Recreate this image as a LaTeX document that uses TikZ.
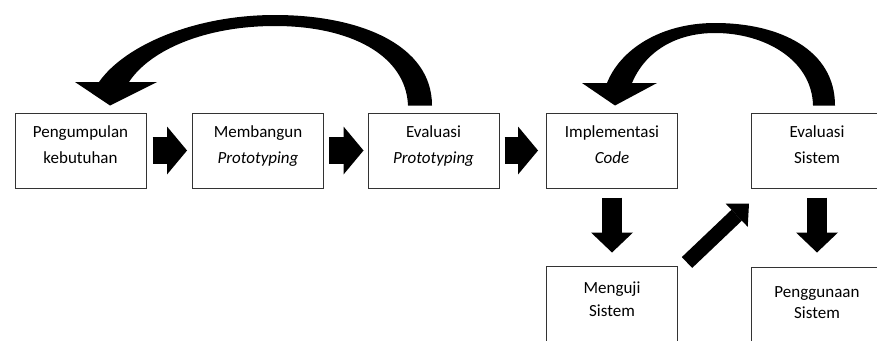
\documentclass[tikz,border=0pt]{standalone}
\usepackage{fontspec}
\setmainfont{Carlito}
\usetikzlibrary{arrows.meta,calc}

\begin{document}
\begin{tikzpicture}[x=1pt,y=-1pt,
    box/.style={draw=black!80,line width=1pt,minimum width=131pt,
                inner sep=0pt,text height=50pt,text depth=25pt,align=center,
                font=\fontsize{17}{26}\selectfont},
    rarrow/.style={line width=27pt,-{Triangle[length=20pt,width=48pt,line width=0pt]}},
    darrow/.style={line width=20pt,-{Triangle[length=20pt,width=42pt,line width=0pt]}},
    sarrow/.style={line width=15pt,-{Triangle[length=17pt,width=32pt,line width=0pt]}}]

    \useasboundingbox (0,0) rectangle (877,340);

    \node[box] (collect) at (80.5,150.5) {Pengumpulan\\kebutuhan};
    \node[box] (build)   at (258,150.5)  {Membangun\\\textit{Prototyping}};
    \node[box] (eproto)  at (433.5,150.5) {Evaluasi\\\textit{Prototyping}};
    \node[box] (impl)    at (612,150.5)  {Implementasi\\\textit{Code}};
    \node[box] (esys)    at (817,150.5)  {Evaluasi\\Sistem};
    \node[box,font=\fontsize{17}{23}\selectfont]
      (test) at (612,303.5) {Menguji\\Sistem};
    \node[box,text height=51pt,text depth=24pt,font=\fontsize{17}{21}\selectfont]
      (use)  at (817,304.5) {Penggunaan\\Sistem};

    \draw[rarrow,shorten <=6pt,shorten >=5pt] (collect) -- (build);
    \draw[rarrow,shorten <=5pt,shorten >=4pt] (build) -- (eproto);
    \draw[rarrow,shorten <=5pt,shorten >=8pt] (eproto) -- (impl);
    \draw[darrow,shorten <=9pt,shorten >=13pt] (impl) -- (test);
    \draw[darrow,shorten <=9pt,shorten >=14pt] (esys) -- (use);
    \draw[sarrow] ([shift={(9,-3)}]test.north east) -- ([shift={(-2,15)}]esys.south west);

    % curved arrows back
    \fill ([shift={(-1.5,-7)}]eproto.north) .. controls (432,45) and (360,15) .. (275,15)
      .. controls (195,15) and (125,45) .. (99,82) -- (75,82)
      -- ([shift={(29.5,-7)}]collect.north) -- (157,82) -- (129,82)
      .. controls (150,50) and (205,26) .. (275,26)
      .. controls (350,26) and (406,55) .. ([shift={(-25.5,-7)}]eproto.north) -- cycle;
    \fill ([shift={(18,-7)}]esys.north) .. controls (835,50) and (780,23) .. (715,23)
      .. controls (660,23) and (620,50) .. (607,83) -- (582,83)
      -- ([shift={(3,-7)}]impl.north) -- (657,83) -- (632,83)
      .. controls (645,52) and (675,33) .. (715,33)
      .. controls (765,33) and (812,60) .. ([shift={(-4,-7)}]esys.north) -- cycle;
\end{tikzpicture}
\end{document}
